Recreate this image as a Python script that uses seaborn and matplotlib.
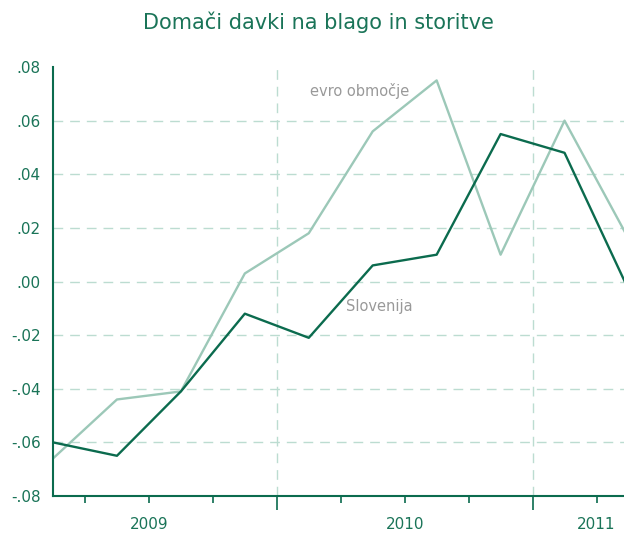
import matplotlib
matplotlib.use("Agg")
import matplotlib.pyplot as plt
import seaborn as sns
import numpy as np
import pandas as pd

# quarterly data, 2009 Q1 .. 2011 Q2
quarters = ["2009Q1", "2009Q2", "2009Q3", "2009Q4",
            "2010Q1", "2010Q2", "2010Q3", "2010Q4",
            "2011Q1", "2011Q2"]
slovenija = [-0.060, -0.065, -0.041, -0.012, -0.021, 0.006, 0.010, 0.055, 0.048, -0.003]
evro = [-0.066, -0.044, -0.041, 0.003, 0.018, 0.056, 0.075, 0.010, 0.060, 0.016]
year_labels = ["2009", "2010", "2011"]
year_label_pos = [1.5, 5.5, 8.5]
yticks = [-0.08, -0.06, -0.04, -0.02, 0.0, 0.02, 0.04, 0.06, 0.08]

dark = "#0b6b4e"
light = "#9cc8b8"
text_green = "#1a7458"
grid_col = "#bcdcd1"

df = pd.DataFrame({
    "idx": list(range(len(quarters))) * 2,
    "value": slovenija + evro,
    "serija": ["Slovenija"] * len(quarters) + ["evro območje"] * len(quarters),
})

sns.set_style("white")
plt.rcParams["font.family"] = ["Liberation Sans Narrow", "DejaVu Sans"]

fig = plt.figure(figsize=(6.24, 5.33), dpi=100)
ax = fig.add_axes([53 / 624, 1 - 496 / 533, 1 - 53 / 624, (496 - 67) / 533])

sns.lineplot(data=df, x="idx", y="value", hue="serija",
             hue_order=["evro območje", "Slovenija"],
             palette={"Slovenija": dark, "evro območje": light},
             legend=False, ax=ax, linewidth=1.7)
for ln in ax.lines:
    if ln.get_color() == dark:
        ln.set_zorder(4)

ax.set_xlim(0, 8.93)
ax.set_ylim(-0.08, 0.08)

# gridlines
for y in yticks[1:-1]:
    ax.axhline(y, color=grid_col, lw=1, ls=(0, (7, 5)), zorder=1)
for x in [3.5, 7.5]:
    ax.axvline(x, color=grid_col, lw=1, ls=(0, (7, 5)), zorder=1)

ax.set_yticks(yticks)
ax.set_yticklabels([("-" if v < 0 else "") + ("%.2f" % abs(v))[1:] for v in yticks],
                   fontsize=11, color=text_green)
minor = [0.5, 1.5, 2.5, 4.5, 5.5, 6.5, 8.5]
major = [3.5, 7.5]
ax.set_xticks(major)
ax.set_xticklabels([])
ax.set_xticks(minor, minor=True)
ax.tick_params(axis="x", which="major", length=10, width=1.2, color=dark, direction="out")
ax.tick_params(axis="x", which="minor", length=5, width=1.2, color=dark, direction="out")
ax.tick_params(axis="y", length=6, width=1.2, color=dark, direction="out", pad=3)
ax.tick_params(axis="x", bottom=True, which="both")

for pos, lab in zip(year_label_pos, year_labels):
    ax.text(pos, -0.0878, lab, ha="center", va="top", fontsize=11,
            color=text_green, transform=ax.transData, clip_on=False)

ax.set_xlabel("")
ax.set_ylabel("")
for s in ["top", "right"]:
    ax.spines[s].set_visible(False)
for s in ["left", "bottom"]:
    ax.spines[s].set_color(dark)
    ax.spines[s].set_linewidth(1.5)

ax.text(4.8, 0.071, "evro območje", ha="center", va="center", fontsize=10.5, color="#999999")
ax.text(5.1, -0.0095, "Slovenija", ha="center", va="center", fontsize=10.5, color="#999999")

fig.text(318 / 624, 1 - 22 / 533, "Domači davki na blago in storitve", ha="center",
         va="center", fontsize=15, color=text_green, family=["DejaVu Sans"])

fig.savefig("out.png", dpi=100)
